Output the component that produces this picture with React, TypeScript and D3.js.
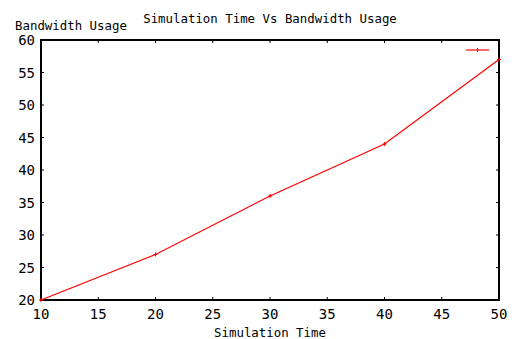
import React from "react";
import * as d3 from "d3";

const simTime = [10, 20, 30, 40, 50];
const bandwidth = [20, 27, 36, 44, 57];
const xTicks = [10, 15, 20, 25, 30, 35, 40, 45, 50];
const yTicks = [20, 25, 30, 35, 40, 45, 50, 55, 60];

export default function App() {
  const W = 518, H = 339;
  const left = 41, right = 499, top = 40, bottom = 300;
  const x = d3.scaleLinear().domain([10, 50]).range([left, right]);
  const y = d3.scaleLinear().domain([20, 60]).range([bottom, top]);
  const pts = simTime.map((t, i) => [x(t), y(bandwidth[i])] as [number, number]);
  const line = d3.line()(pts) || "";
  const font = "'DejaVu Sans Mono', monospace";
  const red = "#ff0000";
  return (
    <svg width={W} height={H} style={{ position: "absolute", left: 0, top: 0, background: "#fff" }}>
      <rect x={0} y={0} width={W} height={H} fill="#fff" />
      <text x={270} y={23} fontFamily={font} fontSize={12.4} textAnchor="middle" fill="#000">Simulation Time Vs Bandwidth Usage</text>
      <text x={15} y={30} fontFamily={font} fontSize={12.4} fill="#000">Bandwidth Usage</text>
      <text x={270} y={337} fontFamily={font} fontSize={12.4} textAnchor="middle" fill="#000">Simulation Time</text>
      {xTicks.map((t) => (
        <g key={"x" + t}>
          <line x1={x(t)} x2={x(t)} y1={bottom} y2={bottom - 3} stroke="#000" />
          <line x1={x(t)} x2={x(t)} y1={top} y2={top + 3} stroke="#000" />
          <text x={x(t)} y={bottom + 19} fontFamily={font} fontSize={14} textAnchor="middle" fill="#000">{t}</text>
        </g>
      ))}
      {yTicks.map((t) => (
        <g key={"y" + t}>
          <line x1={left} x2={left + 3} y1={y(t)} y2={y(t)} stroke="#000" />
          <line x1={right} x2={right - 3} y1={y(t)} y2={y(t)} stroke="#000" />
          <text x={35} y={y(t) + 5} fontFamily={font} fontSize={14} textAnchor="end" fill="#000">{t}</text>
        </g>
      ))}
      <rect x={left} y={top} width={right - left} height={bottom - top} fill="none" stroke="#000" strokeWidth={2} />
      <path d={line} fill="none" stroke={red} strokeWidth={1.2} />
      {pts.map(([px, py], i) => (
        <g key={"m" + i}>
          <line x1={px - 2} x2={px + 2} y1={py} y2={py} stroke={red} strokeWidth={1} />
          <line x1={px} x2={px} y1={py - 2} y2={py + 2} stroke={red} strokeWidth={1} />
        </g>
      ))}
      <line x1={466} x2={489} y1={50} y2={50} stroke={red} strokeWidth={1.2} />
      <line x1={477.5} x2={477.5} y1={48} y2={52} stroke={red} strokeWidth={1} />
    </svg>
  );
}
